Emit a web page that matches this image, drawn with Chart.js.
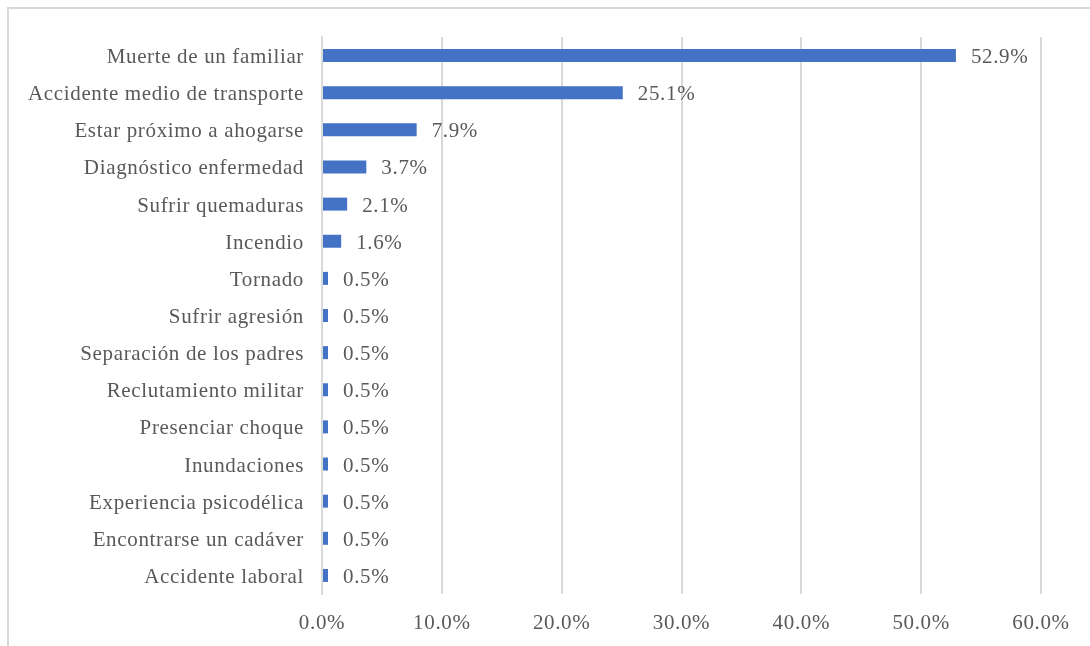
<!DOCTYPE html>
<html>
<head>
<meta charset="utf-8">
<script src="https://cdn.jsdelivr.net/npm/chart.js@4"></script>
<style>
  html, body { margin: 0; padding: 0; background: #fff; }
  #wrap { position: relative; width: 1090px; height: 646px; }
  #frame { position: absolute; left: 7px; top: 7px; right: -4px; bottom: -4px;
           border-left: 2px solid #d9d9d9; border-top: 2px solid #d9d9d9; }
  canvas { position: absolute; left: 0; top: 0; }
</style>
</head>
<body>
<div id="wrap">
  <div id="frame"></div>
  <canvas id="chart" width="1090" height="646"></canvas>
</div>
<script>
const categories = [
  'Muerte de un familiar',
  'Accidente medio de transporte',
  'Estar próximo a ahogarse',
  'Diagnóstico enfermedad',
  'Sufrir quemaduras',
  'Incendio',
  'Tornado',
  'Sufrir agresión',
  'Separación de los padres',
  'Reclutamiento militar',
  'Presenciar choque',
  'Inundaciones',
  'Experiencia psicodélica',
  'Encontrarse un cadáver',
  'Accidente laboral'
];
const percents = [52.9, 25.1, 7.9, 3.7, 2.1, 1.6, 0.5, 0.5, 0.5, 0.5, 0.5, 0.5, 0.5, 0.5, 0.5];
const tickValues = [0, 10, 20, 30, 40, 50, 60];

const FONT = "'Liberation Serif', 'Times New Roman', serif";
const FONT_SIZE = 21;
const TEXT = '#595959';
const GRID = '#d9d9d9';

// slightly loose letter spacing for all canvas text
const spacing = {
  id: 'spacing',
  beforeDraw(chart) { chart.ctx.letterSpacing = '0.65px'; }
};

// value labels drawn just past the end of each bar
const valueLabels = {
  id: 'valueLabels',
  afterDatasetsDraw(chart) {
    const ctx = chart.ctx;
    const meta = chart.getDatasetMeta(0);
    ctx.save();
    ctx.font = FONT_SIZE + 'px ' + FONT;
    ctx.fillStyle = TEXT;
    ctx.textBaseline = 'middle';
    ctx.textAlign = 'left';
    meta.data.forEach((bar, i) => {
      ctx.fillText(percents[i].toFixed(1) + '%', bar.x + 15, bar.y + 2);
    });
    ctx.restore();
  }
};

new Chart(document.getElementById('chart'), {
  type: 'bar',
  data: {
    labels: categories,
    datasets: [{
      data: percents,
      backgroundColor: '#4472c4',
      borderWidth: 0,
      barPercentage: 0.35,
      categoryPercentage: 1
    }]
  },
  options: {
    indexAxis: 'y',
    responsive: false,
    animation: false,
    layout: { padding: { left: 0, top: 37, right: 49, bottom: 0 } },
    plugins: { legend: { display: false }, tooltip: { enabled: false } },
    scales: {
      x: {
        min: 0,
        max: 60,
        afterFit(scale) { scale.height = 52; },
        afterBuildTicks(scale) { scale.ticks = tickValues.map(v => ({ value: v })); },
        grid: { color: GRID, lineWidth: 2, drawTicks: false },
        border: { display: false },
        ticks: {
          padding: 17,
          color: TEXT,
          font: { family: FONT, size: FONT_SIZE },
          callback: v => v.toFixed(1) + '%'
        }
      },
      y: {
        afterFit(scale) { scale.width = 322; },
        grid: { display: false, drawTicks: false },
        border: { display: true, color: GRID, width: 2 },
        ticks: {
          padding: 18,
          labelOffset: 2,
          color: TEXT,
          font: { family: FONT, size: FONT_SIZE }
        }
      }
    }
  },
  plugins: [spacing, valueLabels]
});
</script>
</body>
</html>
